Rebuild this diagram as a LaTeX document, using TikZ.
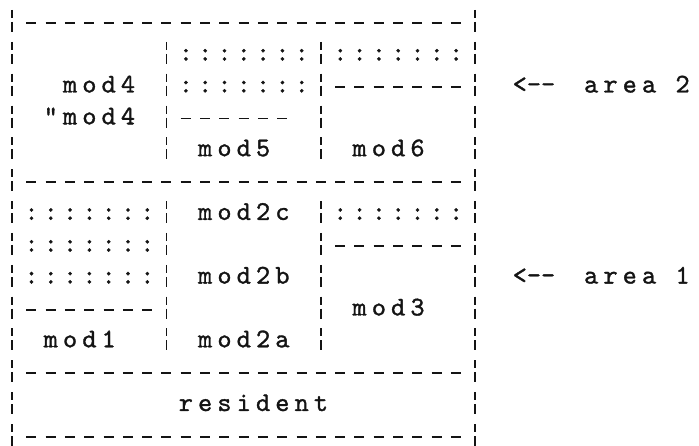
\documentclass[tikz,border=0pt]{standalone}
\usepackage{fontspec}
\usepackage{tikz}
\usetikzlibrary{positioning}
\newfontfamily\gridfont[LetterSpace=19.0, FakeBold=1.2]{lmmono10-regular.otf}
\newfontfamily\plainfont[FakeBold=1.2]{lmmono10-regular.otf}
\definecolor{ink}{HTML}{141414}

\begin{document}
\begin{tikzpicture}[
    x=19.3pt, y=-31.85pt,
    cell/.style={font=\fontsize{27}{31}\selectfont\gridfont, text=ink,
                 inner sep=0pt, anchor=base west, xshift=-7.1pt, yshift=-5.8pt},
    pointer/.style={cell, font=\fontsize{27}{31}\selectfont\plainfont},
    hrule/.style={ink, line width=1.8pt, dash pattern=on 10pt off 9.3pt,
                  shorten <=-5pt, shorten >=-5pt},
    vrule/.style={ink, line width=1.8pt, dash pattern=on 8pt off 4pt on 10pt off 9.85pt,
                  shorten <=-13pt, shorten >=-9pt}
  ]
    \useasboundingbox (-0.62176,-0.72214) rectangle (35.5959,13.2810);

    % outer frame and cross rules
    \draw[vrule] (0,0) -- (0,13);
    \draw[vrule] (24,0) -- (24,13);
    \draw[hrule] (1,0) -- (23,0);
    \draw[hrule] (1,5) -- (23,5);
    \draw[hrule] (1,11) -- (23,11);
    \draw[hrule] (1,13) -- (23,13);

    % area 2
    \draw[vrule] (8,1) -- (8,4);
    \draw[vrule] (16,1) -- (16,4);
    \draw[hrule] (17,2) -- (23,2);
    \draw[hrule] (9,3) -- (14,3);

    % area 1
    \draw[vrule] (8,6) -- (8,10);
    \draw[vrule] (16,6) -- (16,10);
    \draw[hrule] (17,7) -- (23,7);
    \draw[hrule] (1,9) -- (7,9);

    % free space
    \node[cell] (f1) at (9,1) {:::::::};
    \node[cell] (f2) at (17,1) {:::::::};
    \node[cell] (f3) at (9,2) {:::::::};
    \node[cell] (f4) at (1,6) {:::::::};
    \node[cell] (f5) at (17,6) {:::::::};
    \node[cell] (f6) at (1,7) {:::::::};
    \node[cell] (f7) at (1,8) {:::::::};

    % modules
    \node[cell] (m4) at (3,2) {mod4};
    \node[cell] (m4q) at (2,3) {"mod4};
    \node[cell] (m5) at (10,4) {mod5};
    \node[cell] (m6) at (18,4) {mod6};
    \node[cell] (m2c) at (10,6) {mod2c};
    \node[cell] (m2b) at (10,8) {mod2b};
    \node[cell] (m3) at (18,9) {mod3};
    \node[cell] (m1) at (2,10) {mod1};
    \node[cell] (m2a) at (10,10) {mod2a};
    \node[cell] (res) at (9,12) {resident};

    % labels
    \node[pointer] (p2) at (26.3,2) {<-{}-};
    \node[cell] (a2) at (30,2) {area 2};
    \node[pointer] (p1) at (26.3,8) {<-{}-};
    \node[cell] (a1) at (30,8) {area 1};
  \end{tikzpicture}
\end{document}
